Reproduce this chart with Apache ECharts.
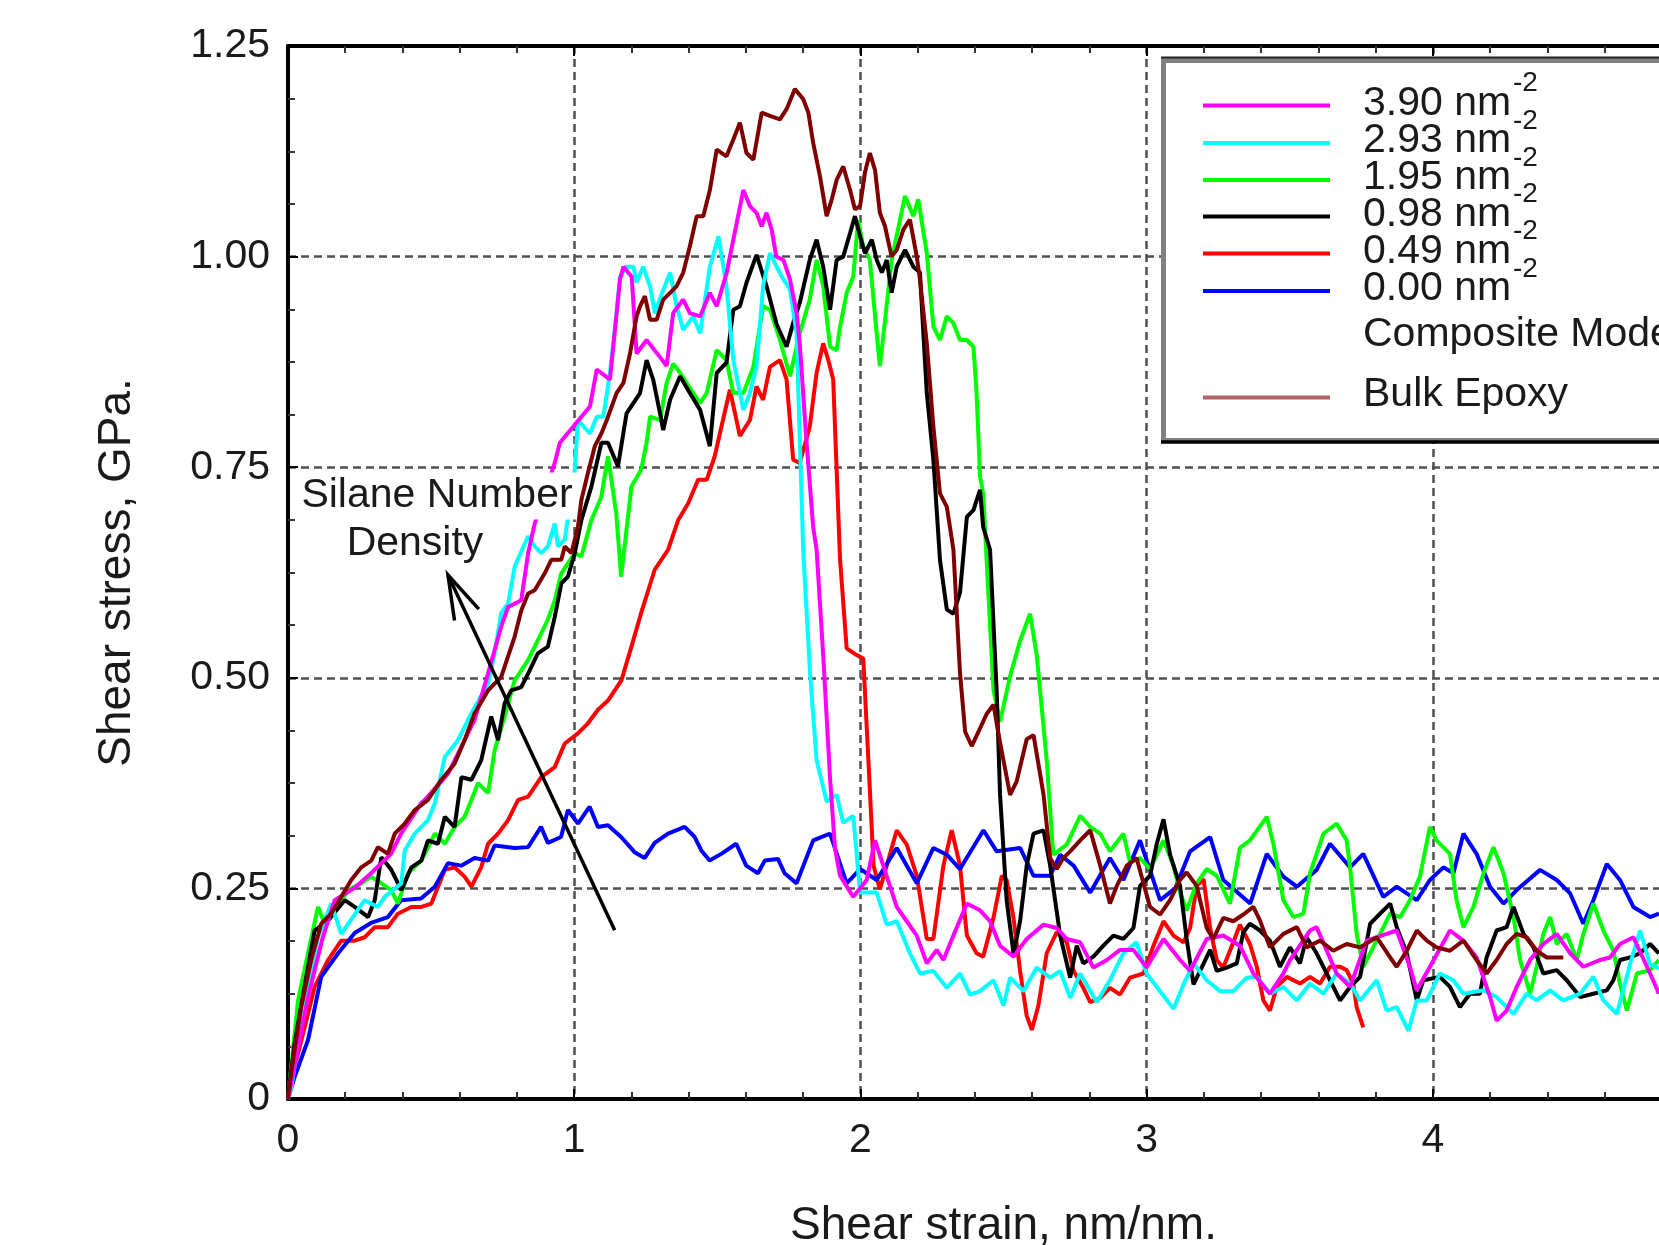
<!DOCTYPE html>
<html>
<head>
<meta charset="utf-8">
<script src="https://cdn.jsdelivr.net/npm/echarts@6/dist/echarts.min.js"></script>
<style>
html,body{margin:0;padding:0;background:#fff;overflow:hidden;width:1659px;height:1245px;}
#chart{width:1719px;height:1245px;}
</style>
</head>
<body>
<div id="chart"></div>
<script>
// ---------- data ----------
const seriesNames = ['3.90 nm', '2.93 nm', '1.95 nm', '0.98 nm', '0.49 nm', '0.00 nm', 'Bulk Epoxy'];
const yTickLabels = ['0', '0.25', '0.50', '0.75', '1.00', '1.25'];
const xTickLabels = ['0', '1', '2', '3', '4', '5'];
const arrowTail = [1.1415, 0.2002];
const arrowHead = [0.559, 0.622];

const d390 = [[0,0],[0.035,0.06],[0.07,0.121],[0.12,0.19],[0.163,0.236],[0.23,0.25],[0.29,0.268],[0.36,0.291],[0.395,0.315],[0.465,0.351],[0.478,0.355],[0.559,0.386],[0.652,0.45],[0.699,0.505],[0.745,0.561],[0.769,0.584],[0.815,0.592],[0.839,0.648],[0.862,0.683],[0.932,0.755],[0.95,0.779],[1.055,0.822],[1.079,0.866],[1.125,0.854],[1.16,0.973],[1.172,0.988],[1.201,0.976],[1.218,0.885],[1.253,0.901],[1.306,0.878],[1.323,0.87],[1.346,0.933],[1.381,0.949],[1.404,0.933],[1.44,0.929],[1.474,0.957],[1.498,0.941],[1.533,0.981],[1.556,1.02],[1.591,1.079],[1.614,1.06],[1.637,1.052],[1.655,1.036],[1.672,1.052],[1.69,1.032],[1.706,1.0],[1.731,0.996],[1.754,0.973],[1.777,0.933],[1.788,0.897],[1.812,0.779],[1.835,0.679],[1.847,0.652],[1.87,0.527],[1.894,0.381],[1.911,0.298],[1.929,0.265],[1.975,0.24],[2.022,0.26],[2.051,0.307],[2.08,0.277],[2.127,0.228],[2.162,0.211],[2.197,0.194],[2.232,0.161],[2.267,0.177],[2.29,0.165],[2.325,0.194],[2.372,0.232],[2.418,0.224],[2.453,0.211],[2.488,0.182],[2.535,0.169],[2.581,0.19],[2.64,0.207],[2.686,0.203],[2.721,0.19],[2.768,0.186],[2.814,0.156],[2.861,0.165],[2.907,0.177],[2.954,0.177],[3.0,0.156],[3.059,0.19],[3.117,0.165],[3.152,0.152],[3.21,0.19],[3.268,0.194],[3.326,0.182],[3.373,0.149],[3.431,0.125],[3.478,0.149],[3.501,0.165],[3.571,0.2],[3.594,0.204],[3.664,0.149],[3.711,0.133],[3.769,0.188],[3.839,0.196],[3.874,0.2],[3.92,0.157],[3.944,0.129],[3.99,0.157],[4.06,0.2],[4.107,0.188],[4.153,0.168],[4.2,0.121],[4.223,0.093],[4.258,0.105],[4.293,0.133],[4.34,0.165],[4.386,0.184],[4.433,0.196],[4.48,0.173],[4.526,0.157],[4.584,0.165],[4.619,0.168],[4.654,0.184],[4.701,0.192],[4.77,0.141],[4.79,0.125]];

const d293 = [[0,0],[0.012,0.014],[0.05,0.1],[0.105,0.192],[0.151,0.232],[0.186,0.196],[0.268,0.236],[0.314,0.228],[0.338,0.24],[0.396,0.256],[0.408,0.295],[0.443,0.315],[0.489,0.331],[0.513,0.351],[0.548,0.406],[0.594,0.426],[0.641,0.458],[0.699,0.493],[0.722,0.529],[0.745,0.577],[0.769,0.588],[0.792,0.632],[0.839,0.668],[0.862,0.656],[0.885,0.648],[0.908,0.656],[0.932,0.683],[0.943,0.656],[0.967,0.664],[1.002,0.747],[1.013,0.806],[1.055,0.79],[1.079,0.81],[1.102,0.81],[1.125,0.862],[1.148,0.933],[1.16,0.976],[1.183,0.988],[1.207,0.988],[1.218,0.969],[1.241,0.988],[1.265,0.965],[1.282,0.933],[1.311,0.96],[1.335,0.981],[1.358,0.941],[1.381,0.913],[1.416,0.929],[1.44,0.909],[1.474,0.988],[1.504,1.024],[1.532,0.965],[1.556,0.877],[1.591,0.818],[1.614,0.838],[1.637,0.869],[1.66,0.965],[1.684,1.004],[1.707,0.988],[1.731,0.973],[1.754,0.961],[1.777,0.909],[1.8,0.652],[1.824,0.506],[1.847,0.402],[1.882,0.353],[1.917,0.361],[1.94,0.328],[1.975,0.336],[1.999,0.245],[2.057,0.245],[2.092,0.207],[2.127,0.211],[2.173,0.173],[2.208,0.149],[2.255,0.152],[2.302,0.132],[2.348,0.149],[2.383,0.124],[2.418,0.128],[2.465,0.141],[2.5,0.111],[2.523,0.144],[2.57,0.128],[2.616,0.156],[2.663,0.144],[2.698,0.152],[2.733,0.12],[2.768,0.149],[2.826,0.115],[2.872,0.141],[2.919,0.173],[2.965,0.186],[3.0,0.149],[3.047,0.128],[3.094,0.107],[3.129,0.136],[3.164,0.161],[3.21,0.141],[3.257,0.128],[3.303,0.128],[3.35,0.144],[3.385,0.145],[3.431,0.125],[3.478,0.133],[3.525,0.117],[3.571,0.137],[3.618,0.125],[3.664,0.149],[3.711,0.137],[3.746,0.117],[3.804,0.141],[3.839,0.105],[3.874,0.109],[3.915,0.081],[3.944,0.117],[3.979,0.117],[4.025,0.149],[4.072,0.141],[4.107,0.125],[4.177,0.129],[4.223,0.121],[4.282,0.101],[4.328,0.125],[4.363,0.117],[4.41,0.129],[4.456,0.117],[4.515,0.125],[4.561,0.145],[4.596,0.117],[4.643,0.101],[4.689,0.16],[4.724,0.2],[4.759,0.16],[4.79,0.155]];

const d195 = [[0,0],[0.035,0.117],[0.07,0.173],[0.105,0.228],[0.128,0.208],[0.16,0.22],[0.21,0.248],[0.256,0.256],[0.291,0.264],[0.326,0.256],[0.361,0.248],[0.384,0.232],[0.419,0.268],[0.466,0.283],[0.513,0.315],[0.548,0.303],[0.582,0.323],[0.617,0.335],[0.641,0.355],[0.664,0.375],[0.699,0.363],[0.722,0.414],[0.757,0.454],[0.792,0.497],[0.839,0.521],[0.885,0.553],[0.908,0.569],[0.932,0.592],[0.955,0.624],[1.002,0.648],[1.025,0.644],[1.06,0.687],[1.095,0.715],[1.118,0.763],[1.147,0.695],[1.164,0.62],[1.2,0.727],[1.234,0.747],[1.253,0.779],[1.265,0.81],[1.3,0.806],[1.323,0.85],[1.346,0.873],[1.37,0.862],[1.416,0.838],[1.44,0.826],[1.463,0.838],[1.498,0.889],[1.532,0.877],[1.556,0.838],[1.591,0.838],[1.626,0.869],[1.66,0.941],[1.684,0.937],[1.719,0.901],[1.754,0.858],[1.788,0.909],[1.823,0.949],[1.847,0.996],[1.87,0.965],[1.894,0.893],[1.917,0.889],[1.929,0.917],[1.952,0.957],[1.975,0.976],[1.992,1.043],[2.01,1.012],[2.033,0.996],[2.057,0.909],[2.068,0.87],[2.08,0.905],[2.109,0.996],[2.138,1.043],[2.156,1.072],[2.185,1.048],[2.202,1.068],[2.232,1.004],[2.255,0.917],[2.278,0.901],[2.302,0.929],[2.325,0.921],[2.348,0.901],[2.372,0.901],[2.395,0.893],[2.406,0.838],[2.418,0.739],[2.429,0.719],[2.441,0.64],[2.465,0.485],[2.488,0.448],[2.523,0.502],[2.558,0.544],[2.593,0.576],[2.616,0.527],[2.651,0.402],[2.674,0.29],[2.721,0.302],[2.768,0.336],[2.803,0.323],[2.838,0.315],[2.872,0.294],[2.919,0.315],[2.942,0.281],[2.977,0.286],[3.012,0.273],[3.059,0.307],[3.094,0.277],[3.117,0.245],[3.14,0.224],[3.175,0.256],[3.21,0.273],[3.245,0.265],[3.291,0.232],[3.326,0.298],[3.361,0.307],[3.42,0.335],[3.443,0.303],[3.478,0.236],[3.513,0.216],[3.548,0.22],[3.571,0.268],[3.618,0.315],[3.664,0.327],[3.699,0.307],[3.711,0.275],[3.734,0.196],[3.757,0.157],[3.804,0.188],[3.851,0.22],[3.886,0.216],[3.92,0.236],[3.955,0.264],[3.99,0.323],[4.013,0.307],[4.06,0.291],[4.083,0.236],[4.107,0.204],[4.142,0.228],[4.177,0.268],[4.212,0.299],[4.247,0.268],[4.282,0.216],[4.305,0.165],[4.34,0.125],[4.363,0.157],[4.386,0.196],[4.41,0.216],[4.433,0.184],[4.468,0.196],[4.503,0.165],[4.526,0.196],[4.561,0.232],[4.596,0.2],[4.631,0.176],[4.654,0.137],[4.678,0.105],[4.713,0.149],[4.759,0.153],[4.79,0.165]];

const d098 = [[0,0],[0.023,0.066],[0.07,0.157],[0.093,0.2],[0.14,0.212],[0.198,0.236],[0.233,0.228],[0.28,0.216],[0.303,0.236],[0.326,0.287],[0.361,0.272],[0.396,0.248],[0.431,0.275],[0.466,0.283],[0.489,0.307],[0.524,0.303],[0.548,0.335],[0.582,0.323],[0.606,0.382],[0.641,0.379],[0.675,0.402],[0.71,0.454],[0.734,0.426],[0.757,0.47],[0.78,0.485],[0.815,0.489],[0.839,0.505],[0.873,0.529],[0.908,0.537],[0.932,0.572],[0.955,0.612],[0.978,0.62],[1.002,0.648],[1.025,0.687],[1.06,0.727],[1.095,0.779],[1.118,0.779],[1.153,0.751],[1.183,0.814],[1.23,0.838],[1.253,0.877],[1.276,0.854],[1.3,0.814],[1.311,0.794],[1.335,0.83],[1.37,0.858],[1.404,0.838],[1.44,0.818],[1.474,0.775],[1.498,0.862],[1.532,0.874],[1.556,0.937],[1.579,0.941],[1.602,0.969],[1.637,1.002],[1.672,0.965],[1.707,0.92],[1.742,0.893],[1.765,0.921],[1.788,0.945],[1.823,0.996],[1.847,1.02],[1.87,0.988],[1.894,0.937],[1.917,0.996],[1.94,1.0],[1.964,1.028],[1.981,1.048],[1.999,1.024],[2.016,1.004],[2.04,1.02],[2.057,0.996],[2.075,0.981],[2.092,0.996],[2.109,0.957],[2.127,0.988],[2.156,1.008],[2.185,0.988],[2.208,0.981],[2.232,0.838],[2.255,0.759],[2.278,0.64],[2.302,0.581],[2.325,0.576],[2.348,0.601],[2.372,0.691],[2.395,0.699],[2.418,0.723],[2.429,0.679],[2.453,0.652],[2.476,0.485],[2.488,0.361],[2.511,0.236],[2.535,0.173],[2.558,0.211],[2.581,0.277],[2.605,0.315],[2.64,0.319],[2.663,0.277],[2.698,0.194],[2.733,0.144],[2.756,0.182],[2.779,0.161],[2.814,0.169],[2.849,0.182],[2.884,0.194],[2.919,0.19],[2.954,0.203],[2.977,0.253],[3.012,0.265],[3.035,0.302],[3.059,0.332],[3.082,0.29],[3.117,0.253],[3.14,0.19],[3.164,0.136],[3.187,0.152],[3.222,0.177],[3.245,0.152],[3.28,0.156],[3.315,0.161],[3.338,0.198],[3.361,0.208],[3.396,0.2],[3.431,0.188],[3.466,0.157],[3.501,0.18],[3.536,0.161],[3.559,0.192],[3.594,0.173],[3.629,0.149],[3.676,0.117],[3.711,0.133],[3.746,0.145],[3.781,0.208],[3.816,0.22],[3.851,0.232],[3.874,0.204],[3.909,0.173],[3.944,0.117],[3.967,0.141],[4.025,0.145],[4.06,0.133],[4.095,0.109],[4.13,0.125],[4.165,0.125],[4.188,0.168],[4.223,0.2],[4.258,0.204],[4.282,0.228],[4.317,0.196],[4.352,0.18],[4.386,0.149],[4.433,0.153],[4.468,0.141],[4.515,0.121],[4.561,0.125],[4.608,0.129],[4.631,0.141],[4.654,0.165],[4.689,0.168],[4.724,0.173],[4.759,0.184],[4.79,0.173]];

const d049 = [[0,0],[0.023,0.038],[0.058,0.085],[0.093,0.133],[0.14,0.165],[0.186,0.188],[0.233,0.188],[0.268,0.192],[0.303,0.204],[0.349,0.204],[0.384,0.22],[0.431,0.228],[0.466,0.228],[0.501,0.232],[0.524,0.252],[0.548,0.272],[0.582,0.275],[0.617,0.264],[0.641,0.252],[0.675,0.275],[0.699,0.303],[0.734,0.315],[0.769,0.331],[0.804,0.355],[0.839,0.359],[0.885,0.382],[0.932,0.394],[0.967,0.422],[1.013,0.434],[1.048,0.446],[1.083,0.462],[1.118,0.473],[1.165,0.497],[1.2,0.537],[1.234,0.577],[1.281,0.628],[1.328,0.652],[1.363,0.687],[1.398,0.707],[1.433,0.735],[1.463,0.735],[1.491,0.763],[1.509,0.79],[1.544,0.842],[1.579,0.787],[1.614,0.806],[1.637,0.846],[1.66,0.83],[1.684,0.869],[1.719,0.877],[1.742,0.854],[1.765,0.759],[1.788,0.755],[1.823,0.798],[1.847,0.862],[1.87,0.897],[1.888,0.877],[1.905,0.854],[1.929,0.64],[1.952,0.535],[1.987,0.527],[2.01,0.523],[2.028,0.402],[2.046,0.277],[2.068,0.249],[2.092,0.277],[2.127,0.319],[2.162,0.302],[2.197,0.265],[2.232,0.19],[2.255,0.19],[2.29,0.277],[2.319,0.319],[2.348,0.277],[2.372,0.194],[2.406,0.173],[2.429,0.169],[2.465,0.215],[2.494,0.265],[2.511,0.26],[2.535,0.215],[2.558,0.152],[2.581,0.099],[2.599,0.082],[2.622,0.111],[2.651,0.173],[2.686,0.198],[2.721,0.186],[2.745,0.152],[2.779,0.132],[2.803,0.115],[2.838,0.12],[2.872,0.132],[2.907,0.124],[2.942,0.144],[2.989,0.149],[3.024,0.182],[3.059,0.211],[3.094,0.194],[3.129,0.186],[3.152,0.203],[3.175,0.253],[3.199,0.261],[3.222,0.203],[3.245,0.165],[3.268,0.156],[3.303,0.186],[3.326,0.207],[3.361,0.184],[3.385,0.157],[3.408,0.117],[3.431,0.105],[3.455,0.133],[3.49,0.145],[3.536,0.137],[3.571,0.145],[3.606,0.137],[3.641,0.157],[3.676,0.157],[3.699,0.153],[3.722,0.137],[3.734,0.109],[3.757,0.085]];

const d000 = [[0,0],[0.023,0.026],[0.07,0.07],[0.116,0.145],[0.175,0.173],[0.233,0.197],[0.29,0.209],[0.349,0.216],[0.395,0.236],[0.465,0.238],[0.513,0.252],[0.559,0.28],[0.605,0.277],[0.652,0.286],[0.699,0.283],[0.722,0.301],[0.792,0.298],[0.839,0.299],[0.884,0.323],[0.908,0.304],[0.954,0.311],[0.978,0.343],[1.013,0.327],[1.054,0.347],[1.083,0.323],[1.118,0.325],[1.164,0.311],[1.211,0.293],[1.246,0.286],[1.281,0.304],[1.328,0.315],[1.386,0.323],[1.421,0.311],[1.444,0.295],[1.473,0.283],[1.514,0.291],[1.566,0.303],[1.601,0.277],[1.642,0.268],[1.666,0.283],[1.712,0.285],[1.735,0.268],[1.777,0.256],[1.835,0.307],[1.894,0.315],[1.952,0.256],[1.999,0.273],[2.057,0.26],[2.127,0.298],[2.197,0.256],[2.255,0.298],[2.302,0.29],[2.348,0.273],[2.43,0.319],[2.476,0.294],[2.558,0.298],[2.605,0.265],[2.663,0.265],[2.698,0.29],[2.745,0.277],[2.803,0.245],[2.872,0.286],[2.919,0.26],[2.977,0.307],[3.047,0.236],[3.1,0.25],[3.152,0.294],[3.222,0.311],[3.268,0.26],[3.362,0.232],[3.42,0.291],[3.478,0.264],[3.525,0.252],[3.594,0.272],[3.641,0.303],[3.711,0.275],[3.757,0.291],[3.827,0.24],[3.874,0.252],[3.944,0.236],[3.99,0.26],[4.037,0.275],[4.072,0.268],[4.107,0.315],[4.153,0.291],[4.2,0.252],[4.247,0.232],[4.293,0.248],[4.375,0.272],[4.433,0.26],[4.48,0.244],[4.526,0.208],[4.561,0.236],[4.608,0.279],[4.654,0.26],[4.701,0.228],[4.759,0.216],[4.79,0.22]];

const dBulk = [[0,0],[0.012,0.034],[0.046,0.109],[0.081,0.165],[0.116,0.208],[0.151,0.22],[0.186,0.24],[0.221,0.26],[0.256,0.275],[0.291,0.283],[0.314,0.299],[0.349,0.291],[0.373,0.315],[0.408,0.327],[0.443,0.343],[0.489,0.355],[0.536,0.379],[0.582,0.398],[0.617,0.426],[0.652,0.458],[0.699,0.485],[0.745,0.501],[0.792,0.549],[0.815,0.58],[0.839,0.6],[0.862,0.604],[0.897,0.624],[0.92,0.64],[0.955,0.64],[0.967,0.656],[0.99,0.648],[1.013,0.679],[1.025,0.711],[1.048,0.743],[1.072,0.775],[1.095,0.79],[1.114,0.806],[1.148,0.838],[1.172,0.85],[1.195,0.885],[1.218,0.929],[1.23,0.941],[1.247,0.953],[1.265,0.925],[1.288,0.925],[1.311,0.949],[1.335,0.957],[1.358,0.965],[1.381,0.981],[1.404,1.012],[1.428,1.048],[1.451,1.048],[1.474,1.079],[1.498,1.127],[1.532,1.119],[1.556,1.139],[1.579,1.159],[1.602,1.123],[1.626,1.115],[1.655,1.171],[1.684,1.167],[1.719,1.163],[1.742,1.175],[1.771,1.199],[1.8,1.187],[1.818,1.171],[1.835,1.135],[1.859,1.095],[1.882,1.048],[1.9,1.068],[1.917,1.091],[1.94,1.107],[1.964,1.079],[1.981,1.056],[1.999,1.06],[2.016,1.1],[2.033,1.123],[2.051,1.103],[2.068,1.052],[2.086,1.036],[2.109,1.0],[2.127,1.008],[2.15,1.032],[2.173,1.044],[2.197,1.0],[2.208,0.973],[2.232,0.897],[2.255,0.798],[2.278,0.719],[2.302,0.703],[2.325,0.652],[2.348,0.506],[2.366,0.436],[2.389,0.419],[2.418,0.44],[2.441,0.457],[2.465,0.468],[2.488,0.423],[2.523,0.361],[2.546,0.377],[2.581,0.427],[2.605,0.432],[2.64,0.361],[2.663,0.286],[2.686,0.273],[2.709,0.286],[2.733,0.294],[2.768,0.307],[2.803,0.319],[2.838,0.277],[2.872,0.232],[2.896,0.253],[2.931,0.277],[2.965,0.286],[2.989,0.256],[3.012,0.228],[3.047,0.219],[3.082,0.236],[3.117,0.26],[3.14,0.269],[3.175,0.253],[3.21,0.203],[3.233,0.19],[3.268,0.215],[3.303,0.211],[3.338,0.219],[3.373,0.228],[3.396,0.212],[3.431,0.18],[3.478,0.196],[3.525,0.204],[3.559,0.18],[3.606,0.188],[3.652,0.176],[3.699,0.184],[3.746,0.18],[3.804,0.192],[3.851,0.168],[3.874,0.157],[3.909,0.176],[3.944,0.2],[3.979,0.188],[4.013,0.18],[4.06,0.176],[4.107,0.188],[4.153,0.165],[4.188,0.149],[4.223,0.165],[4.258,0.184],[4.293,0.196],[4.328,0.192],[4.363,0.176],[4.398,0.168],[4.456,0.168]];

const seriesColors = ['#ff00ff', '#00ffff', '#00ff00', '#000000', '#ff0000', '#0000ff', '#800000'];
const legendLineColors = ['#ff00ff', '#00ffff', '#00ff00', '#000000', '#ff0000', '#0000ff', '#b06464'];
const seriesData = [d390, d293, d195, d098, d049, d000, dBulk];
// draw order (bottom to top)
const drawOrder = [4, 5, 2, 3, 1, 0, 6];

// ---------- chart ----------
const FONT = '"Liberation Sans", Arial, Helvetica, sans-serif';
const chart = echarts.init(document.getElementById('chart'), null, {renderer: 'canvas'});

const splitStyle = {show: true, lineStyle: {color: '#505050', width: 2.5, type: [8, 5]}};

const series = drawOrder.map(i => ({
  name: seriesNames[i],
  type: 'line',
  data: seriesData[i],
  symbol: 'none',
  showSymbol: false,
  lineStyle: {color: seriesColors[i], width: 4},
  itemStyle: {color: seriesColors[i]},
  silent: true,
  animation: false,
  z: 3
}));

// legend rows (pixel layout of the reference legend box)
const legendX0 = 1203, legendX1 = 1330, textX = 1363, supX = 1513;
const rowY = [105.5, 143, 180, 216.5, 253.5, 291];
const graphics = [];
graphics.push({type: 'rect', z: 100, shape: {x: 1163.5, y: 60.5, width: 620, height: 380}, style: {fill: '#fff', stroke: '#808080', lineWidth: 5}});
graphics.push({type: 'line', z: 101, shape: {x1: 1161, y1: 57.5, x2: 1719, y2: 57.5}, style: {stroke: '#222', lineWidth: 2}});
graphics.push({type: 'line', z: 101, shape: {x1: 1161, y1: 442, x2: 1719, y2: 442}, style: {stroke: '#000', lineWidth: 3.5}});
for (let i = 0; i < 6; i++) {
  graphics.push({type: 'line', z: 101, shape: {x1: legendX0, y1: rowY[i], x2: legendX1, y2: rowY[i]}, style: {stroke: legendLineColors[i], lineWidth: 4}});
  graphics.push({type: 'text', z: 102, x: textX, y: rowY[i] - 2, style: {text: seriesNames[i], font: '41px ' + FONT, fill: '#1a1a1a', textVerticalAlign: 'middle', textAlign: 'left'}});
  graphics.push({type: 'text', z: 103, x: supX, y: rowY[i] - 22, style: {text: '-2', font: '28px ' + FONT, fill: '#1a1a1a', textVerticalAlign: 'middle', textAlign: 'left'}});
}
graphics.push({type: 'text', z: 102, x: textX, y: 335, style: {text: 'Composite Model', font: '41px ' + FONT, fill: '#1a1a1a', textVerticalAlign: 'middle', textAlign: 'left'}});
graphics.push({type: 'line', z: 101, shape: {x1: legendX0, y1: 397.5, x2: legendX1, y2: 397.5}, style: {stroke: legendLineColors[6], lineWidth: 4}});
graphics.push({type: 'text', z: 102, x: textX, y: 395, style: {text: seriesNames[6], font: '41px ' + FONT, fill: '#1a1a1a', textVerticalAlign: 'middle', textAlign: 'left'}});
// annotation text
graphics.push({type: 'text', z: 50, x: 437, y: 496, style: {text: 'Silane Number', font: '41px ' + FONT, fill: '#1a1a1a', textAlign: 'center', textVerticalAlign: 'middle', backgroundColor: '#fff', padding: [3, 4, 3, 4]}});
graphics.push({type: 'text', z: 50, x: 415, y: 544, style: {text: 'Density', font: '41px ' + FONT, fill: '#1a1a1a', textAlign: 'center', textVerticalAlign: 'middle', backgroundColor: '#fff', padding: [0, 4, 0, 4]}});

const option = {
  backgroundColor: '#ffffff',
  animation: false,
  textStyle: {fontFamily: FONT},
  grid: {left: 288, top: 46, bottom: 146, right: 0, containLabel: false, outerBoundsMode: 'none', show: false},
  xAxis: [{
    type: 'value', min: 0, max: 5, interval: 1, position: 'bottom',
    name: 'Shear strain, nm/nm.', nameLocation: 'middle', nameGap: 104,
    nameTextStyle: {fontSize: 46, color: '#1a1a1a', fontFamily: FONT},
    axisLine: {show: true, onZero: false, lineStyle: {color: '#000', width: 4}},
    axisTick: {show: true, inside: true, length: 10, lineStyle: {color: '#000', width: 2}},
    minorTick: {show: true, splitNumber: 5, length: 7, lineStyle: {color: '#333', width: 2}},
    axisLabel: {show: true, fontSize: 41, color: '#1a1a1a', margin: 21, fontFamily: FONT,
      formatter: (v) => xTickLabels[Math.round(v)]},
    splitLine: splitStyle
  }, {
    type: 'value', min: 0, max: 5, interval: 1, position: 'top',
    axisLine: {show: true, onZero: false, lineStyle: {color: '#000', width: 4}},
    axisTick: {show: true, inside: true, length: 10, lineStyle: {color: '#000', width: 2}},
    minorTick: {show: true, splitNumber: 5, length: 7, lineStyle: {color: '#333', width: 2}},
    axisLabel: {show: false},
    splitLine: {show: false}
  }],
  yAxis: [{
    type: 'value', min: 0, max: 1.25, interval: 0.25, position: 'left',
    name: 'Shear stress, GPa.', nameLocation: 'middle', nameGap: 148, nameRotate: 90,
    nameTextStyle: {fontSize: 46, color: '#1a1a1a', fontFamily: FONT},
    axisLine: {show: true, onZero: false, lineStyle: {color: '#000', width: 4}},
    axisTick: {show: true, inside: true, length: 10, lineStyle: {color: '#000', width: 2}},
    minorTick: {show: true, splitNumber: 4, length: 7, lineStyle: {color: '#333', width: 2}},
    axisLabel: {show: true, fontSize: 41, color: '#1a1a1a', margin: 18, fontFamily: FONT,
      formatter: (v) => yTickLabels[Math.round(v / 0.25)]},
    splitLine: splitStyle
  }],
  series: series,
  graphic: graphics
};
chart.setOption(option);

// arrow annotation in data coordinates
const pTail = chart.convertToPixel({gridIndex: 0}, arrowTail);
const pHead = chart.convertToPixel({gridIndex: 0}, arrowHead);
const ang = Math.atan2(pTail[1] - pHead[1], pTail[0] - pHead[0]);
const barb = 46, spread = 17 * Math.PI / 180;
const b1 = [pHead[0] + barb * Math.cos(ang - spread), pHead[1] + barb * Math.sin(ang - spread)];
const b2 = [pHead[0] + barb * Math.cos(ang + spread), pHead[1] + barb * Math.sin(ang + spread)];
graphics.push({type: 'line', z: 60, shape: {x1: pTail[0], y1: pTail[1], x2: pHead[0], y2: pHead[1]}, style: {stroke: '#000', lineWidth: 3.5}});
graphics.push({type: 'polyline', z: 60, shape: {points: [b1, pHead, b2]}, style: {stroke: '#000', lineWidth: 3.5, fill: null}});
chart.setOption({graphic: graphics}, {replaceMerge: ['graphic']});
</script>
</body>
</html>
